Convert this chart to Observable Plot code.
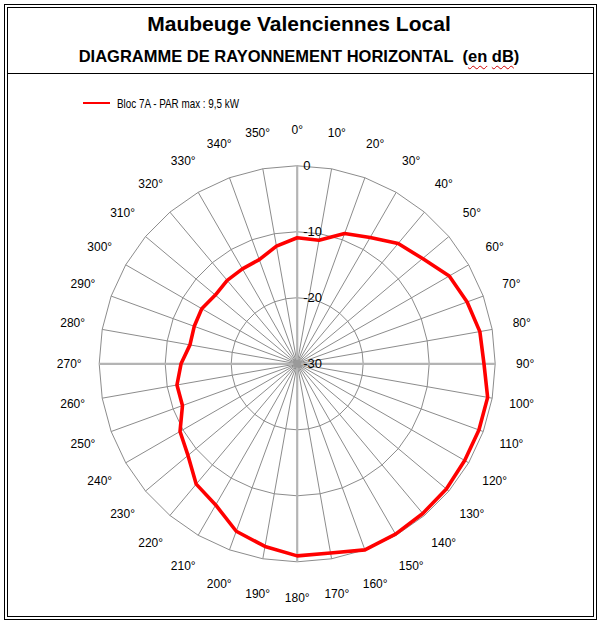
<!DOCTYPE html>
<html>
<head>
<meta charset="utf-8">
<script src="https://cdn.jsdelivr.net/npm/d3@7"></script>
<script src="https://cdn.jsdelivr.net/npm/@observablehq/plot@0.6"></script>
<style>
  html, body { margin: 0; padding: 0; background: #fff; }
  #page { position: relative; width: 602px; height: 624px; overflow: hidden; font-family: "Liberation Sans", Arial, sans-serif; }
  #frame { position: absolute; left: 4px; top: 4px; width: 593px; height: 616px; box-sizing: border-box; border: 4px double #000; pointer-events: none; }
  #divider { position: absolute; left: 7px; top: 73px; width: 586px; height: 0; border-top: 1px solid #000; }
  #title { position: absolute; left: 0; top: 12px; width: 598px; text-align: center; font-weight: bold; font-size: 21px; color: #000; }
  #subtitle { position: absolute; left: 0; top: 47px; width: 598px; text-align: center; font-weight: bold; font-size: 16.5px; color: #000; white-space: pre; }
  .sp { text-decoration: underline wavy #d00000; text-decoration-thickness: 1px; text-underline-offset: 3px; }
  #legend { position: absolute; left: 83px; top: 95px; height: 16px; display: flex; align-items: center; font-size: 13.5px; color: #000; }
  #legend .sw { width: 27px; height: 0; border-top: 2px solid #ff0000; margin-right: 7px; }
  #legendText { display: inline-block; transform: scaleX(0.73); transform-origin: left center; white-space: nowrap; }
  #chart { position: absolute; left: 11px; top: 112px; }
</style>
</head>
<body>
<div id="page">
  <div id="title">Maubeuge Valenciennes Local</div>
  <div id="subtitle">DIAGRAMME DE RAYONNEMENT HORIZONTAL  (<span class="sp">en</span> <span class="sp">dB</span>)</div>
  <div id="divider"></div>
  <div id="legend"><div class="sw"></div><span id="legendText"></span></div>
  <div id="chart"></div>
  <div id="frame"></div>
</div>
<script>
// ---- data ----
const seriesName = "Bloc 7A - PAR max : 9,5 kW";
const angles = [0, 10, 20, 30, 40, 50, 60, 70, 80, 90, 100, 110, 120, 130, 140, 150, 160, 170,
                180, 190, 200, 210, 220, 230, 240, 250, 260, 270, 280, 290, 300, 310, 320, 330, 340, 350];
const values = [-10.9, -11.0, -9.0, -7.9, -6.2, -5.2, -3.4, -2.6, -1.9, -1.7, -0.7, -0.7,
                -0.7, -0.5, -0.4, -0.2, 0.0, -0.9, -0.9, -1.9, -3.0, -5.3, -6.2, -8.4,
                -9.5, -11.5, -11.5, -12.4, -13.5, -13.4, -13.3, -13.8, -13.5, -13.4, -13.2, -11.9];
const levels = [-30, -20, -10, 0];
const levelLabels = ["-30", "-20", "-10", "0"];
const angleLabels = angles.map(a => a + "°");

document.getElementById("legendText").textContent = seriesName;

// ---- geometry (scale setup) ----
const W = 580, H = 500;
const CX = 285.7, CY = 251.3;      // centre in svg pixels
const PX = 6.6;                    // pixels per dB
const minDb = levels[0];
const rad = a => a * Math.PI / 180;
const px = (a, r) => r * Math.sin(rad(a));
const py = (a, r) => r * Math.cos(rad(a));

const curve = angles.map((a, i) => ({a, x: px(a, values[i] - minDb), y: py(a, values[i] - minDb)}));
const rings = levels.slice(1).flatMap(L => angles.map(a => ({L, x: px(a, L - minDb), y: py(a, L - minDb)})));
const outerR = levels[levels.length - 1] - minDb;
const spokes = angles.map(a => ({a, x2: px(a, outerR), y2: py(a, outerR), axis: a % 90 === 0}));
const labRx = 228 / PX, labRy = 234 / PX;
const aLabels = angles.map((a, i) => ({t: angleLabels[i], x: labRx * Math.sin(rad(a)), y: labRy * Math.cos(rad(a))}));
const rLabels = levels.map((L, i) => ({t: levelLabels[i], x: 0, y: L - minDb}));

const chart = Plot.plot({
  width: W, height: H,
  marginTop: 0, marginRight: 0, marginBottom: 0, marginLeft: 0,
  x: {domain: [-CX / PX, (W - CX) / PX], axis: null},
  y: {domain: [-(H - CY) / PX, CY / PX], axis: null},
  style: {fontFamily: "'Liberation Sans', Arial, sans-serif", background: "transparent"},
  marks: [
    Plot.link(spokes.filter(d => !d.axis), {x1: 0, y1: 0, x2: "x2", y2: "y2", stroke: "#8c8c8c", strokeWidth: 1}),
    Plot.line(rings, {x: "x", y: "y", z: "L", curve: "linear-closed", stroke: "#8c8c8c", strokeWidth: 1}),
    Plot.link(spokes.filter(d => d.axis), {x1: 0, y1: 0, x2: "x2", y2: "y2", stroke: "#b4b4b4", strokeWidth: 2.2}),
    Plot.dot([{x: 0, y: 0}], {x: "x", y: "y", r: 4, fill: "#9a9a9a"}),
    Plot.line(curve, {x: "x", y: "y", curve: "linear-closed", stroke: "#ff0000", strokeWidth: 3.6, strokeLinejoin: "round"}),
    Plot.text(rLabels, {x: "x", y: "y", text: "t", dx: 6, textAnchor: "start", fontSize: 13, fill: "#000"}),
    Plot.text(aLabels, {x: "x", y: "y", text: "t", textAnchor: "middle", fontSize: 12, fill: "#000"})
  ]
});
document.getElementById("chart").appendChild(chart);
</script>
</body>
</html>
